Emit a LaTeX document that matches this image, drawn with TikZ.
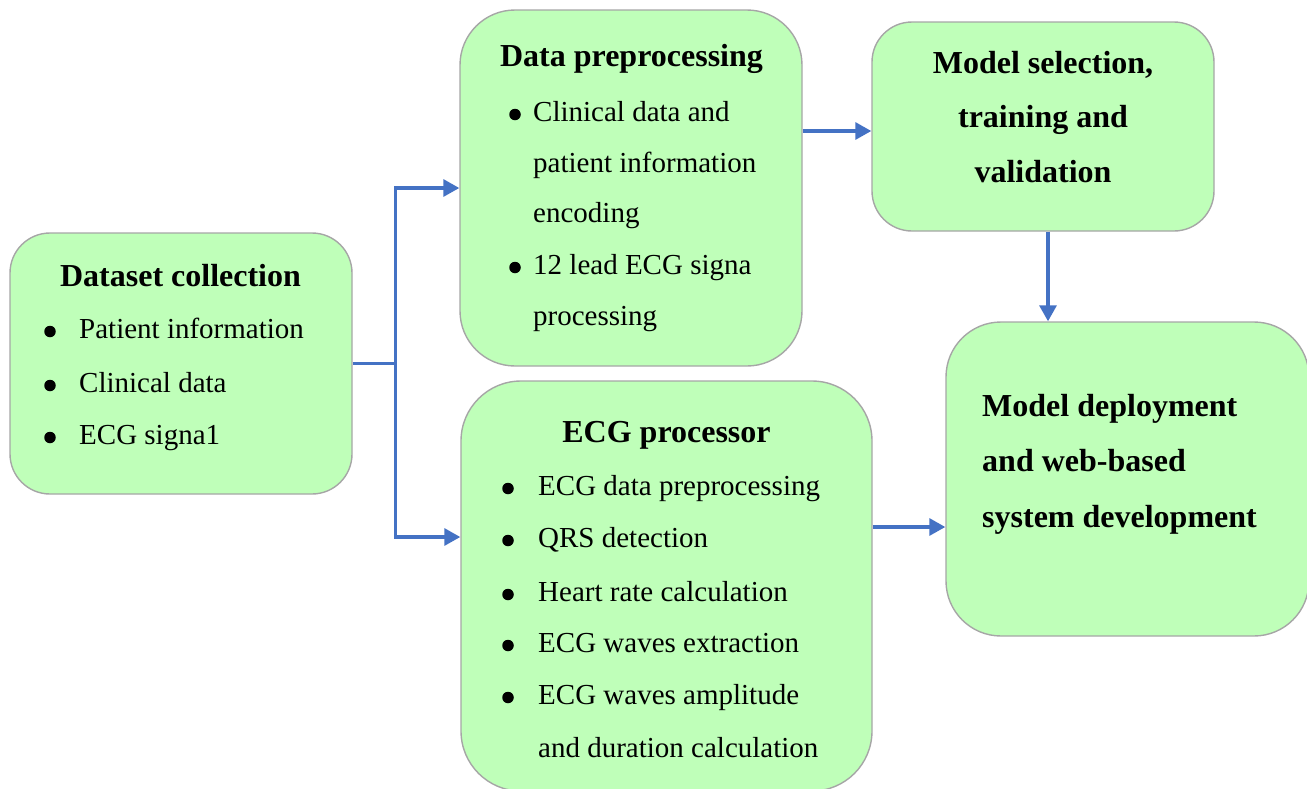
\documentclass[tikz,border=0pt]{standalone}
\usepackage{fontspec}
\setmainfont{Liberation Serif}
\usetikzlibrary{arrows.meta,calc}
\definecolor{boxfill}{RGB}{191,255,185}
\definecolor{boxline}{RGB}{166,166,166}
\definecolor{linkblue}{RGB}{68,114,196}
\tikzset{
  box/.style={draw=boxline, line width=1.4pt, fill=boxfill, rectangle, inner sep=0pt},
  link/.style={draw=linkblue, line width=3.2pt},
  arr/.style={link, -{Triangle[length=16pt,width=17pt]}},
  head/.style={anchor=base, inner sep=0pt, font=\fontsize{32}{38}\selectfont\bfseries},
  headl/.style={anchor=base west, inner sep=0pt, font=\fontsize{32}{38}\selectfont\bfseries},
  item/.style={anchor=base west, inner sep=0pt, font=\fontsize{29}{34}\selectfont},
  dot/.style={circle, fill=black, inner sep=0pt, minimum size=11.5pt},
}
\begin{document}
\begin{tikzpicture}[x=1pt,y=-1pt]
\useasboundingbox (0,0) rectangle (1307,788);
\clip (0,0) rectangle (1307,788);

% boxes
\node[box, minimum width=342pt, minimum height=261pt, rounded corners=40pt] (ds) at (181,363.5) {};
\node[box, minimum width=342pt, minimum height=356pt, rounded corners=55pt] (pre) at (631,188) {};
\node[box, minimum width=342pt, minimum height=209pt, rounded corners=40pt] (ms) at (1043,126.5) {};
\node[box, minimum width=411pt, minimum height=410pt, rounded corners=60pt] (ecg) at (666.5,586) {};
\node[box, minimum width=363pt, minimum height=314pt, rounded corners=55pt] (dep) at (1127.5,479) {};

% dataset collection
\node[head] (dsT) at (180.5,286) {Dataset collection};
\node[dot] (dsB1) at (50,331.5) {};
\node[item] (dsI1) at (79,338) {Patient information};
\node[dot] (dsB2) at (50,385.5) {};
\node[item] (dsI2) at (79,392) {Clinical data};
\node[dot] (dsB3) at (50,437.5) {};
\node[item] (dsI3) at (79,444) {ECG signa1};

% data preprocessing
\node[head] (preT) at (631.5,66) {Data preprocessing};
\node[dot] (preB1) at (515,114.5) {};
\node[item] (preI1) at (533,121) {Clinical data and};
\node[item] (preI2) at (533,172) {patient information};
\node[item] (preI3) at (533,222) {encoding};
\node[dot] (preB2) at (515,267.5) {};
\node[item] (preI4) at (533,274) {12 lead ECG signa};
\node[item] (preI5) at (533,325) {processing};

% model selection
\node[head] (msT1) at (1043,73) {Model selection,};
\node[head] (msT2) at (1043,127) {training and};
\node[head] (msT3) at (1043,182) {validation};

% ECG processor
\node[head] (ecgT) at (666.5,442) {ECG processor};
\node[dot] (ecgB1) at (508,488.5) {};
\node[item] (ecgI1) at (538,495) {ECG data preprocessing};
\node[dot] (ecgB2) at (508,540.5) {};
\node[item] (ecgI2) at (538,547) {QRS detection};
\node[dot] (ecgB3) at (508,594.5) {};
\node[item] (ecgI3) at (538,601) {Heart rate calculation};
\node[dot] (ecgB4) at (508,645.5) {};
\node[item] (ecgI4) at (538,652) {ECG waves extraction};
\node[dot] (ecgB5) at (508,697.5) {};
\node[item] (ecgI5) at (538,704) {ECG waves amplitude};
\node[item] (ecgI6) at (538,757) {and duration calculation};

% deployment
\node[headl] (depT1) at (982,416) {Model deployment};
\node[headl] (depT2) at (982,471) {and web-based};
\node[headl] (depT3) at (982,527) {system development};

% connectors
\coordinate (split) at ($(ds.east)+(43,0)$);
\draw[link] (ds.east) -- ($(split)+(1.6,0)$);
\draw[arr] (split) |- (pre.west);
\draw[arr] (split) |- ([yshift=49pt]ecg.west);
\draw[arr] ([yshift=57pt]pre.east) -- ([yshift=57pt]pre.east -| ms.west);
\draw[arr] ([xshift=5pt]ms.south) -- ([xshift=5pt]ms.south |- dep.north);
\draw[arr] ([yshift=59pt]ecg.east) -- ([yshift=59pt]ecg.east -| dep.west);
\end{tikzpicture}
\end{document}
